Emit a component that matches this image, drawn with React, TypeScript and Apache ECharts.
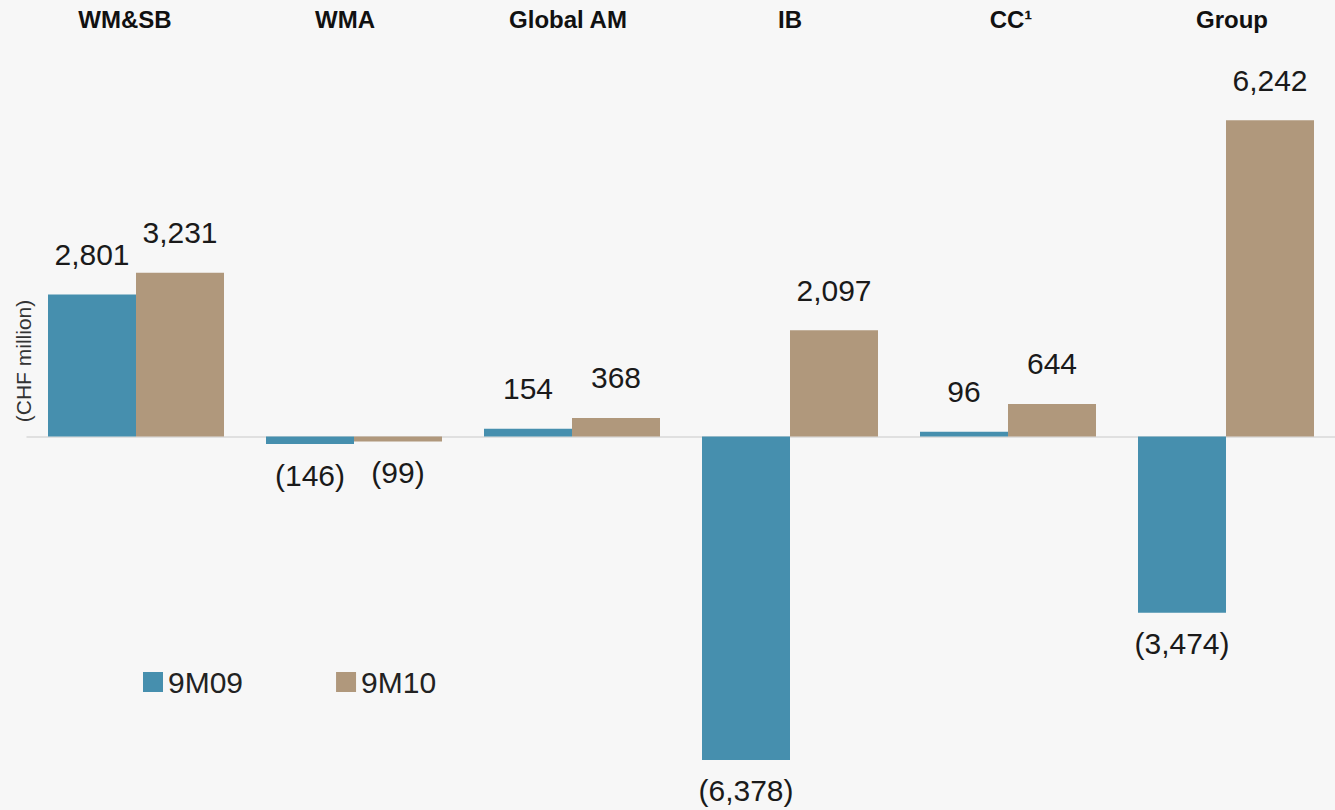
import React, { useEffect, useRef } from "react";
import * as echarts from "echarts";

const categories = ["WM&SB", "WMA", "Global AM", "IB", "CC¹", "Group"];
const series9M09 = [2801, -146, 154, -6378, 96, -3474];
const series9M10 = [3231, -99, 368, 2097, 644, 6242];
const seriesNames = ["9M09", "9M10"];
const yAxisTitle = "(CHF million)";

const COLORS = ["#468fae", "#b0987c"];
const FONT = "'Liberation Sans', Arial, sans-serif";
// horizontal nudges of the top category labels (px, negative = left)
const LABEL_SHIFT = [-11, -9, -4, 0, 3, 6];

function fmt(v: number): string {
  const s = Math.abs(v).toLocaleString("en-US");
  return v < 0 ? `(${s})` : s;
}

function buildData(values: number[]) {
  return values.map((v) => ({
    value: v,
    label: {
      position: v < 0 ? "bottom" : "top",
      distance: v < 0 ? 16 : 25,
    },
  }));
}

export default function App() {
  const ref = useRef<HTMLDivElement>(null);
  useEffect(() => {
    if (!ref.current) return;
    const chart = echarts.init(ref.current, null, { renderer: "svg" });
    const labelStyle = {
      show: true,
      fontFamily: FONT,
      fontSize: 30,
      color: "#1a1a1a",
      formatter: (p: any) => fmt(p.value),
    };
    const topCats = categories.map((c, i) => {
      const d = LABEL_SHIFT[i];
      return {
        value: c,
        textStyle: { padding: d < 0 ? [0, -2 * d, 0, 0] : [0, 0, 0, 2 * d] },
      };
    });
    chart.setOption({
      animation: false,
      backgroundColor: "#f7f7f7",
      grid: { left: 27, width: 1310, top: 31, height: 760.5, containLabel: false },
      legend: {
        left: 138,
        top: 662,
        icon: "rect",
        itemWidth: 20,
        itemHeight: 20,
        itemGap: 93,
        textStyle: { fontFamily: FONT, fontSize: 30, color: "#222" },
        data: seriesNames,
      },
      xAxis: [
        {
          type: "category",
          data: categories,
          axisLine: { show: true, onZero: true, lineStyle: { color: "#d9d9d9", width: 1.5 } },
          axisTick: { show: false },
          axisLabel: { show: false },
        },
        {
          type: "category",
          position: "top",
          data: topCats,
          axisLine: { show: false },
          axisTick: { show: false },
          axisLabel: {
            show: true,
            margin: 0,
            fontFamily: FONT,
            fontSize: 24,
            fontWeight: "bold",
            color: "#111",
          },
        },
      ],
      yAxis: {
        type: "value",
        min: -7000,
        max: 8000,
        axisLine: { show: false },
        axisTick: { show: false },
        axisLabel: { show: false },
        splitLine: { show: false },
      },
      graphic: [
        {
          type: "text",
          x: 23,
          y: 361,
          rotation: Math.PI / 2,
          style: {
            text: yAxisTitle,
            fontFamily: FONT,
            fontSize: 21,
            fill: "#333",
            align: "center",
            verticalAlign: "middle",
          },
        },
      ],
      series: [
        {
          name: seriesNames[0],
          type: "bar",
          xAxisIndex: 0,
          barWidth: 88,
          barGap: "0%",
          itemStyle: { color: COLORS[0] },
          label: labelStyle,
          data: buildData(series9M09),
        },
        {
          name: seriesNames[1],
          type: "bar",
          xAxisIndex: 0,
          barWidth: 88,
          barGap: "0%",
          itemStyle: { color: COLORS[1] },
          label: labelStyle,
          data: buildData(series9M10),
        },
      ],
    });
    return () => chart.dispose();
  }, []);
  return (
    <div
      ref={ref}
      style={{ position: "absolute", left: 0, top: 0, width: 1335, height: 810 }}
    />
  );
}
